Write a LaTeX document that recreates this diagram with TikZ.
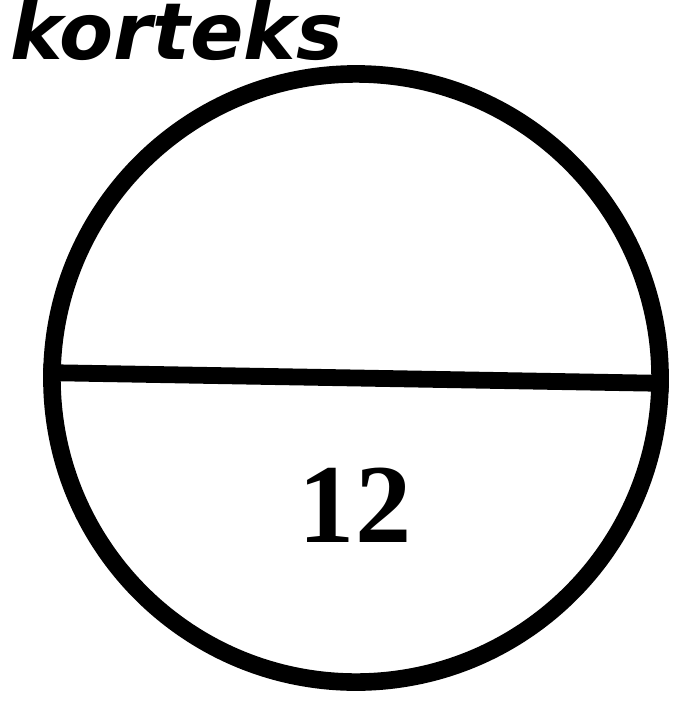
\documentclass[tikz,border=0pt]{standalone}
\usepackage{fontspec}
\setmainfont{Liberation Serif}
\newfontfamily\handfont{DejaVu Sans}
\begin{document}
\begin{tikzpicture}[x=0.025cm, y=-0.025cm,
	ring/.style={circle, draw, line width=0.44cm, inner sep=0pt, minimum size=15.2cm}]
	\useasboundingbox (0, 0) rectangle (679, 712);
	\node[ring] (cortex) at (356, 378) {};
	\draw[line width=0.42cm] (cortex.179.2)--(cortex.359.2);
	\node (num) at (355, 505) {\fontsize{80}{80}\selectfont\bfseries 12};
	\node[anchor=west, inner sep=0pt] (label) at (10, 30) {\handfont\bfseries\itshape\fontsize{56}{56}\selectfont korteks};
\end{tikzpicture}
\end{document}
